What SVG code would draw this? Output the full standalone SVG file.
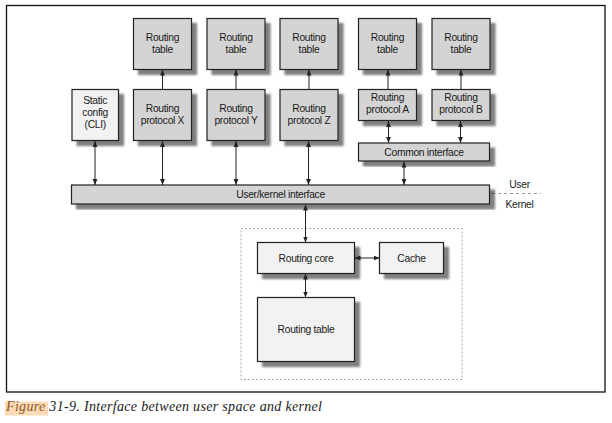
<svg xmlns="http://www.w3.org/2000/svg" width="612" height="423" viewBox="0 0 612 423">
<defs>
<filter id="sh" x="-20%" y="-20%" width="150%" height="150%">
<feGaussianBlur in="SourceAlpha" stdDeviation="1" result="b"/>
<feOffset in="b" dx="5" dy="5" result="o"/>
<feComponentTransfer in="o" result="s"><feFuncA type="linear" slope="0.5"/></feComponentTransfer>
<feMerge><feMergeNode in="s"/><feMergeNode in="SourceGraphic"/></feMerge>
</filter>
<marker id="ah" viewBox="0 0 10 10" refX="10" refY="5" markerWidth="6" markerHeight="6" markerUnits="userSpaceOnUse" orient="auto-start-reverse">
<path d="M0,1 L10,5 L0,9 z" fill="#222"/>
</marker>
<style>
.box{fill:#d4d4d4;stroke:#222;stroke-width:1.2;filter:url(#sh)}
.lt{fill:#f2f2f2}
.t{font-family:"Liberation Sans",Arial,sans-serif;font-size:10.3px;fill:#1a1a1a;text-anchor:middle;letter-spacing:-0.3px}
.c{fill:none;stroke:#222;stroke-width:1}
.one{marker-end:url(#ah)}
.two{marker-start:url(#ah);marker-end:url(#ah)}
</style>
</defs>
<rect width="612" height="423" fill="#fff"/>
<rect x="6.5" y="5.5" width="598.5" height="386.5" fill="none" stroke="#111" stroke-width="1.3"/>
<rect x="241" y="228.5" width="221" height="151" fill="none" stroke="#aaa" stroke-width="1" stroke-dasharray="2,2"/>
<line x1="492" y1="193.5" x2="541" y2="193.5" stroke="#999" stroke-width="1" stroke-dasharray="3,3"/>
<text class="t" x="519.5" y="188">User</text>
<text class="t" x="519.5" y="207.5">Kernel</text>

<g id="rt1"><rect class="box" x="133.5" y="18.5" width="58" height="51"/><text class="t" x="162.5" y="40.5">Routing</text><text class="t" x="162.5" y="52.5">table</text></g>
<g id="rt2"><rect class="box" x="207" y="18.5" width="58" height="51"/><text class="t" x="236" y="40.5">Routing</text><text class="t" x="236" y="52.5">table</text></g>
<g id="rt3"><rect class="box" x="280" y="18.5" width="58" height="51"/><text class="t" x="309" y="40.5">Routing</text><text class="t" x="309" y="52.5">table</text></g>
<g id="rt4"><rect class="box" x="358.5" y="18.5" width="58" height="51"/><text class="t" x="387.5" y="40.5">Routing</text><text class="t" x="387.5" y="52.5">table</text></g>
<g id="rt5"><rect class="box" x="432" y="18.5" width="58" height="51"/><text class="t" x="461" y="40.5">Routing</text><text class="t" x="461" y="52.5">table</text></g>

<g id="static"><rect class="box lt" x="72" y="89.5" width="46.5" height="51"/><text class="t" x="95.2" y="104">Static</text><text class="t" x="95.2" y="116">config</text><text class="t" x="95.2" y="128">(CLI)</text></g>
<g id="px"><rect class="box" x="133.5" y="89.5" width="58" height="51"/><text class="t" x="162.5" y="112">Routing</text><text class="t" x="162.5" y="123.5">protocol X</text></g>
<g id="py"><rect class="box" x="207" y="89.5" width="58" height="51"/><text class="t" x="236" y="112">Routing</text><text class="t" x="236" y="123.5">protocol Y</text></g>
<g id="pz"><rect class="box" x="280" y="89.5" width="58" height="51"/><text class="t" x="309" y="112">Routing</text><text class="t" x="309" y="123.5">protocol Z</text></g>
<g id="pa"><rect class="box" x="358.5" y="89.5" width="58" height="31"/><text class="t" x="387.5" y="100.5">Routing</text><text class="t" x="387.5" y="112.5">protocol A</text></g>
<g id="pb"><rect class="box" x="432" y="89.5" width="58" height="31"/><text class="t" x="461" y="100.5">Routing</text><text class="t" x="461" y="112.5">protocol B</text></g>
<g id="common"><rect class="box" x="358.5" y="143" width="131" height="18"/><text class="t" x="424" y="155.5">Common interface</text></g>
<g id="uk"><rect class="box" x="71.5" y="185" width="418" height="19"/><text class="t" x="280.5" y="198">User/kernel interface</text></g>

<g id="core"><rect class="box lt" x="257.5" y="242.5" width="97" height="31"/><text class="t" x="306" y="261.5">Routing core</text></g>
<g id="cache"><rect class="box lt" x="379.5" y="242.5" width="64" height="31"/><text class="t" x="411.5" y="261.5">Cache</text></g>
<g id="krt"><rect class="box lt" x="257.5" y="297.5" width="97" height="64"/><text class="t" x="306" y="333">Routing table</text></g>

<g id="connectors">
<line class="c one" x1="162.5" y1="89.5" x2="162.5" y2="69.5"/>
<line class="c one" x1="236" y1="89.5" x2="236" y2="69.5"/>
<line class="c one" x1="309" y1="89.5" x2="309" y2="69.5"/>
<line class="c one" x1="388" y1="89.5" x2="388" y2="69.5"/>
<line class="c one" x1="461" y1="89.5" x2="461" y2="69.5"/>
<line class="c two" x1="95" y1="141" x2="95" y2="185"/>
<line class="c two" x1="162.5" y1="141" x2="162.5" y2="185"/>
<line class="c two" x1="236" y1="141" x2="236" y2="185"/>
<line class="c two" x1="308.5" y1="141" x2="308.5" y2="185"/>
<line class="c two" x1="388.5" y1="121" x2="388.5" y2="143"/>
<line class="c two" x1="460.5" y1="121" x2="460.5" y2="143"/>
<line class="c two" x1="404" y1="161.5" x2="404" y2="185"/>
<line class="c two" x1="305.5" y1="204.5" x2="305.5" y2="242.5"/>
<line class="c two" x1="354.5" y1="258" x2="379.5" y2="258"/>
<line class="c two" x1="305.5" y1="273.5" x2="305.5" y2="297.5"/>
</g>

<rect x="5" y="401.5" width="43" height="14" fill="#fdd9b6"/>
<text x="6" y="411" style="font-family:'Liberation Serif','Times New Roman',serif;font-style:italic;font-size:14px;fill:#222" textLength="316" lengthAdjust="spacing"><tspan fill="#8b5a2b">Figure</tspan> 31-9. Interface between user space and kernel</text>
</svg>
